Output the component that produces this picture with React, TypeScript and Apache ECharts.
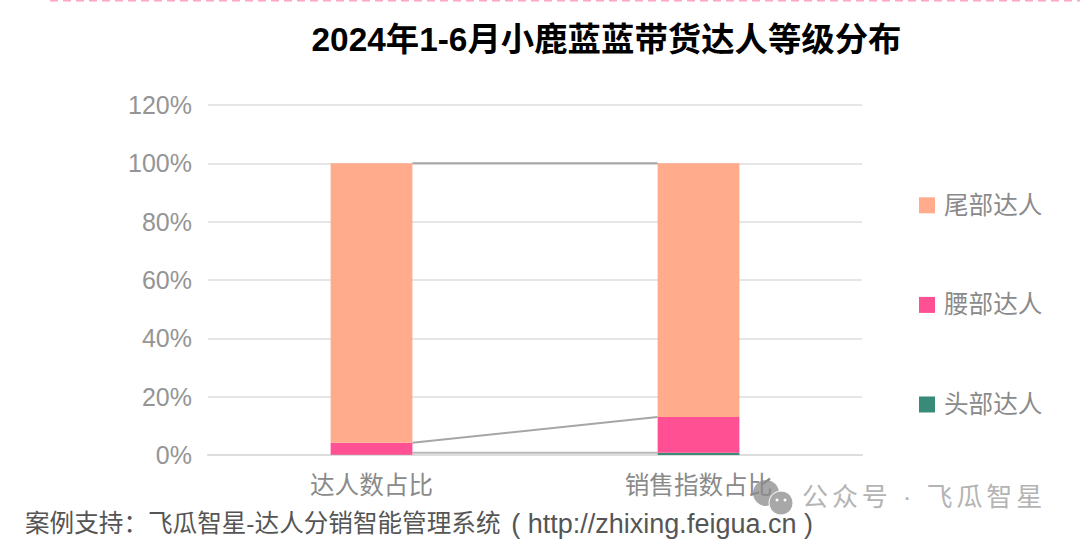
import React, { useEffect, useRef } from "react";
import * as echarts from "echarts";

const categories = ["达人数占比", "销售指数占比"];
const headValues = [0.1, 0.8];
const waistValues = [4.1, 12.2];
const tailValues = [95.8, 87];
const headLinkLevels = [0.8, 0.8];
const yTicks = [0, 20, 40, 60, 80, 100, 120];
const titleText = "2024年1-6月小鹿蓝蓝带货达人等级分布";
const footerCjk = "案例支持：飞瓜智星-达人分销智能管理系统 ";
const footerLatin = "( http://zhixing.feigua.cn )";
const watermarkText = "公众号 · 飞瓜智星";
const FONT = '"Liberation Sans", "Noto Sans CJK SC", sans-serif';

const waistTop = headValues.map((v, i) => v + waistValues[i]);
const tailTop = waistTop.map((v, i) => v + tailValues[i]);
const BAR_RATIO = 0.25;

export default function App() {
  const ref = useRef<HTMLDivElement>(null);
  useEffect(() => {
    const chart = echarts.init(ref.current!, undefined, { renderer: "svg" });
    const bar = (name: string, data: number[], color: string) => ({
      name,
      type: "bar",
      stack: "s",
      data,
      barWidth: BAR_RATIO * 100 + "%",
      z: 3,
      itemStyle: { color },
    });
    const link = (name: string, levels: number[], color: string) => ({
      name,
      type: "custom",
      silent: true,
      z: 2,
      data: [[0, levels[0], levels[1]]],
      encode: { x: 0, y: [1, 2] },
      renderItem: (_p: any, api: any) => {
        const half = (api.size([1, 0])[0] * BAR_RATIO) / 2;
        const a = api.coord([0, api.value(1)]);
        const b = api.coord([1, api.value(2)]);
        return {
          type: "line",
          shape: { x1: a[0] + half, y1: a[1], x2: b[0] - half, y2: b[1] },
          style: { stroke: color, lineWidth: 2, fill: "none" },
        };
      },
    });
    chart.setOption({
      animation: false,
      backgroundColor: "#ffffff",
      textStyle: { fontFamily: FONT },
      title: {
        text: titleText,
        left: 601.5,
        top: 18,
        textAlign: "center",
        textStyle: { fontSize: 33.4, fontWeight: "bold", color: "#000000", fontFamily: FONT },
      },
      grid: { left: 208, right: 218, top: 105, bottom: 86 },
      xAxis: {
        type: "category",
        data: categories,
        axisTick: { show: false },
        axisLine: { lineStyle: { color: "#dddddd", width: 2 } },
        axisLabel: { color: "#8a8a8a", fontSize: 24.6, margin: 18, fontFamily: FONT },
      },
      yAxis: {
        type: "value",
        min: yTicks[0],
        max: yTicks[yTicks.length - 1],
        interval: 20,
        axisLine: { show: false },
        axisTick: { show: false },
        axisLabel: {
          color: "#959595",
          fontSize: 25,
          margin: 16,
          formatter: "{value}%",
          fontFamily: FONT,
          padding: [0, 0, 3, 0],
        },
        splitLine: { lineStyle: { color: "#dedede", width: 1.5 } },
      },
      legend: {
        orient: "vertical",
        left: 914,
        top: 188,
        itemWidth: 16,
        itemHeight: 16,
        itemGap: 75,
        icon: "rect",
        data: ["尾部达人", "腰部达人", "头部达人"],
        textStyle: { color: "#8a8a8a", fontSize: 24.6, fontFamily: FONT, padding: [0, 0, 0, 4] },
      },
      series: [
        bar("头部达人", headValues, "#3a8a78"),
        bar("腰部达人", waistValues, "#ff5093"),
        bar("尾部达人", tailValues, "#ffab8c"),
        link("l1", headLinkLevels, "#b8b8b8"),
        link("l2", waistTop, "#a6a6a6"),
        link("l3", tailTop, "#a6a6a6"),
      ],
      graphic: [
        {
          type: "line",
          shape: { x1: 50, y1: 0.5, x2: 1080, y2: 0.5 },
          style: { stroke: "#ffa6c6", lineWidth: 2, lineDash: [8, 5] },
        },
        {
          type: "text",
          x: 25,
          y: 510,
          style: {
            text: "{a|" + footerCjk + "}{b|" + footerLatin + "}",
            fill: "#555555",
            fontFamily: FONT,
            rich: {
              a: { fontSize: 24.6, fill: "#555555", fontFamily: FONT },
              b: { fontSize: 27, fill: "#555555", fontFamily: FONT, padding: [0, 0, 0, 4] },
            },
          },
        },
        {
          type: "text",
          x: 802,
          y: 484,
          style: { text: watermarkText, fontSize: 26, fill: "#b4b4b4", fontFamily: FONT },
        },
        { type: "circle", shape: { cx: 766, cy: 493, r: 13 }, style: { fill: "#a8a8a8" } },
        { type: "circle", shape: { cx: 781, cy: 503, r: 12 }, style: { fill: "#a8a8a8", stroke: "#ffffff", lineWidth: 1 } },
        { type: "circle", shape: { cx: 777, cy: 500, r: 1.5 }, style: { fill: "#ffffff" } },
        { type: "circle", shape: { cx: 785, cy: 500, r: 1.5 }, style: { fill: "#ffffff" } },
      ],
    });
    ref.current!.querySelectorAll("text").forEach((t) => {
      if (t.textContent === watermarkText) t.setAttribute("letter-spacing", "3.9");
    });
    return () => chart.dispose();
  }, []);
  return <div ref={ref} style={{ width: 1080, height: 541, position: "absolute", left: 0, top: 0 }} />;
}
